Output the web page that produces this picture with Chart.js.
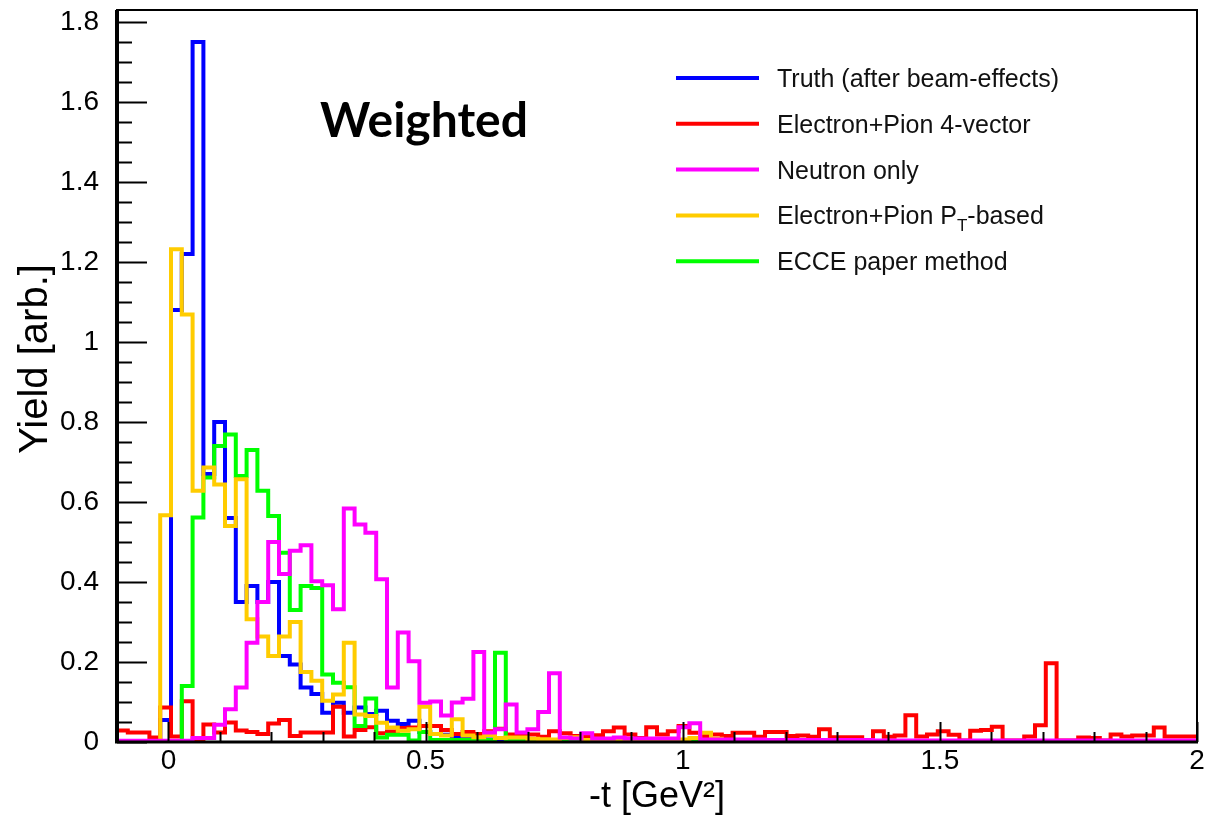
<!DOCTYPE html>
<html>
<head>
<meta charset="utf-8">
<script src="https://cdn.jsdelivr.net/npm/chart.js@4.4.1/dist/chart.umd.min.js"></script>
<style>
  html, body { margin: 0; padding: 0; background: #fff; }
</style>
</head>
<body>
<canvas id="yieldChart" width="1206" height="815"></canvas>
<script>
// -t histogram: 100 bins between -0.1 and 2.0 GeV^2
const binLow = -0.1;
const binWidth = 0.021;
const nBins = 100;

const xTicks = [0, 0.5, 1, 1.5, 2];
const yTicks = [0, 0.2, 0.4, 0.6, 0.8, 1, 1.2, 1.4, 1.6, 1.8];

const seriesNames = ['Truth (after beam-effects)', 'Electron+Pion 4-vector', 'Neutron only', 'Electron+Pion P_T-based', 'ECCE paper method'];
const seriesColors = ['#0000ff', '#ff0000', '#ff00ff', '#ffcc00', '#00ff00'];

const truth = [
    0, 0, 0, 0, 0.055, 1.08, 1.22, 1.75, 0.67, 0.80,
    0.56, 0.35, 0.39, 0.35, 0.40, 0.215, 0.194, 0.136, 0.12, 0.073,
    0.098, 0.073, 0.086, 0.07, 0.078, 0.053, 0.045, 0.053, 0.025, 0.02,
    0.018, 0.012, 0.01, 0.008, 0.006, 0.005, 0.004, 0.003, 0.002, 0.002,
    0.001, 0.001, 0, 0, 0, 0, 0, 0, 0, 0,
    0, 0, 0, 0, 0, 0, 0, 0, 0, 0,
    0, 0, 0, 0, 0, 0, 0, 0, 0, 0,
    0, 0, 0, 0, 0, 0, 0, 0, 0, 0,
    0, 0, 0, 0, 0, 0, 0, 0, 0, 0,
    0, 0, 0, 0, 0, 0, 0, 0, 0, 0
];
const fourVector = [
    0.029, 0.024, 0.024, 0.011, 0.086, 0.014, 0.102, 0.007, 0.044, 0.024,
    0.049, 0.029, 0.025, 0.02, 0.046, 0.055, 0.015, 0.024, 0.024, 0.024,
    0.088, 0.014, 0.03, 0.037, 0.022, 0.026, 0.035, 0.036, 0.04, 0.04,
    0.03, 0.02, 0.025, 0.02, 0.027, 0.033, 0.019, 0.019, 0.019, 0.013,
    0.027, 0.022, 0.015, 0.015, 0.017, 0.027, 0.036, 0.019, 0.01, 0.037,
    0.019, 0.027, 0.04, 0.023, 0.015, 0.019, 0.015, 0.023, 0.023, 0.013,
    0.025, 0.025, 0.015, 0.016, 0.013, 0.032, 0.012, 0.012, 0.012, 0.004,
    0.027, 0.013, 0.016, 0.067, 0.014, 0.019, 0.027, 0.018, 0.004, 0.028,
    0.03, 0.038, 0.004, 0.004, 0.014, 0.042, 0.197, 0.004, 0.004, 0.011,
    0.01, 0.004, 0.019, 0.014, 0.016, 0.016, 0.036, 0.014, 0.014, 0.014
];
const neutronOnly = [
    0.003, 0.003, 0.003, 0.003, 0.003, 0.003, 0.003, 0.01, 0.01, 0.043,
    0.082, 0.136, 0.248, 0.35, 0.50, 0.42, 0.478, 0.492, 0.402, 0.392,
    0.332, 0.584, 0.544, 0.523, 0.407, 0.136, 0.274, 0.202, 0.098, 0.101,
    0.066, 0.099, 0.108, 0.225, 0.024, 0.032, 0.094, 0.024, 0.032, 0.075,
    0.172, 0.011, 0.009, 0.022, 0.009, 0.009, 0.011, 0.009, 0.009, 0.009,
    0.009, 0.009, 0.037, 0.047, 0.006, 0.006, 0.006, 0.006, 0.006, 0.006,
    0.005, 0.005, 0.005, 0.005, 0.005, 0.005, 0.005, 0.005, 0.005, 0.005,
    0.004, 0.004, 0.004, 0.004, 0.004, 0.004, 0.004, 0.004, 0.004, 0.004,
    0.004, 0.004, 0.004, 0.004, 0.004, 0.004, 0.004, 0.004, 0.004, 0.004,
    0.004, 0.004, 0.004, 0.004, 0.004, 0.004, 0.004, 0.004, 0.004, 0.004
];
const ptBased = [
    0, 0, 0, 0, 0.567, 1.232, 1.069, 0.628, 0.686, 0.644,
    0.54, 0.657, 0.307, 0.264, 0.215, 0.264, 0.30, 0.175, 0.153, 0.103,
    0.119, 0.248, 0.069, 0.065, 0.048, 0.036, 0.028, 0.032, 0.088, 0.02,
    0.016, 0.057, 0.016, 0.012, 0.017, 0.01, 0.011, 0.011, 0.008, 0.007,
    0.006, 0.01, 0.012, 0.005, 0.005, 0.005, 0.005, 0.005, 0.004, 0.004,
    0.004, 0.004, 0.006, 0.01, 0.023, 0.008, 0.003, 0.003, 0.003, 0.003,
    0.002, 0.002, 0.002, 0.002, 0.002, 0.002, 0.002, 0.002, 0.002, 0.002,
    0, 0, 0, 0, 0, 0, 0, 0, 0, 0,
    0, 0, 0, 0, 0, 0, 0, 0, 0, 0,
    0, 0, 0, 0, 0, 0, 0, 0, 0, 0
];
const ecceMethod = [
    0, 0, 0, 0, 0, 0, 0.14, 0.561, 0.661, 0.74,
    0.769, 0.665, 0.73, 0.628, 0.565, 0.473, 0.33, 0.39, 0.385, 0.169,
    0.148, 0.137, 0.04, 0.109, 0.011, 0.018, 0.018, 0.004, 0.025, 0.005,
    0.005, 0.005, 0.005, 0.005, 0.005, 0.223, 0.004, 0.004, 0.003, 0.003,
    0.002, 0.002, 0.002, 0.001, 0.001, 0, 0, 0, 0, 0,
    0, 0, 0, 0, 0, 0, 0, 0, 0, 0,
    0, 0, 0, 0, 0, 0, 0, 0, 0, 0,
    0, 0, 0, 0, 0, 0, 0, 0, 0, 0,
    0, 0, 0, 0, 0, 0, 0, 0, 0, 0,
    0, 0, 0, 0, 0, 0, 0, 0, 0, 0
];

const allSeries = [truth, fourVector, neutronOnly, ptBased, ecceMethod];
// drawing order: magenta on top, blue at the back
const drawOrder = [4, 3, 0, 1, 2];

// turn bin contents into step points (left edge of every bin + closing edge)
function histPoints(values) {
    const pts = values.map((v, k) => ({ x: binLow + k * binWidth, y: v }));
    pts.push({ x: binLow + nBins * binWidth, y: values[values.length - 1] });
    return pts;
}

const FONT = 'Liberation Sans';

// ROOT-like frame, inward ticks, titles, legend and label
const rootDecor = {
    id: 'rootDecor',
    afterDraw(chart) {
        const { ctx, chartArea: a, scales: { x, y } } = chart;
        ctx.save();
        ctx.strokeStyle = '#000';
        ctx.lineCap = 'butt';

        // y ticks (major 0.2, minor 0.05)
        ctx.lineWidth = 2;
        const yStep = yTicks[1] - yTicks[0];
        for (let i = 0; i < yTicks.length; i++) {
            for (let m = 0; m < 4; m++) {
                const v = yTicks[i] + m * yStep / 4;
                if (v > y.max) continue;
                const py = Math.round(y.getPixelForValue(v)) + 0.5;
                const len = m === 0 ? 30 : 15;
                ctx.beginPath();
                ctx.moveTo(a.left, py);
                ctx.lineTo(a.left + len, py);
                ctx.stroke();
            }
        }
        // x ticks (major 0.5, minor 0.1)
        const xStep = xTicks[1] - xTicks[0];
        for (let i = -1; i < xTicks.length; i++) {
            for (let m = 0; m < 5; m++) {
                const v = xTicks[0] + i * xStep + m * xStep / 5;
                if (v < x.min - 1e-9 || v > x.max + 1e-9) continue;
                const px = Math.round(x.getPixelForValue(v)) + 0.5;
                const len = m === 0 ? 20 : 10;
                ctx.beginPath();
                ctx.moveTo(px, a.bottom);
                ctx.lineTo(px, a.bottom - len);
                ctx.stroke();
            }
        }

        // frame
        ctx.lineWidth = 2;
        ctx.strokeRect(a.left, a.top, a.right - a.left, a.bottom - a.top);
        ctx.lineWidth = 4;
        ctx.beginPath();
        ctx.moveTo(a.left, a.top);
        ctx.lineTo(a.left, a.bottom + 1);
        ctx.stroke();
        ctx.lineWidth = 3;
        ctx.beginPath();
        ctx.moveTo(a.left - 2, a.bottom);
        ctx.lineTo(a.right + 1, a.bottom);
        ctx.stroke();

        // axis titles
        ctx.fillStyle = '#000';
        ctx.textAlign = 'center';
        ctx.textBaseline = 'middle';
        ctx.font = '36px "' + FONT + '"';
        ctx.fillText('-t [GeV\u00b2]', (a.left + a.right) / 2, 797);
        ctx.save();
        ctx.translate(36, 359);
        ctx.rotate(-Math.PI / 2);
        ctx.font = '40px "' + FONT + '"';
        ctx.fillText('Yield [arb.]', 0, 0);
        ctx.restore();

        // legend
        ctx.textAlign = 'left';
        ctx.textBaseline = 'alphabetic';
        seriesNames.forEach((name, i) => {
            const ly = 78 + i * 45.8;
            ctx.strokeStyle = seriesColors[i];
            ctx.lineWidth = 4;
            ctx.beginPath();
            ctx.moveTo(676, ly);
            ctx.lineTo(759, ly);
            ctx.stroke();
            ctx.fillStyle = '#111';
            ctx.font = '25px "' + FONT + '"';
            const parts = name.split('_T');
            let tx = 777;
            ctx.fillText(parts[0], tx, ly + 9);
            if (parts.length > 1) {
                tx += ctx.measureText(parts[0]).width;
                ctx.font = '17px "' + FONT + '"';
                ctx.fillText('T', tx, ly + 16);
                tx += ctx.measureText('T').width;
                ctx.font = '25px "' + FONT + '"';
                ctx.fillText(parts[1], tx, ly + 9);
            }
        });

        // "Weighted" label
        ctx.fillStyle = '#000';
        ctx.font = 'bold 48px Lato';
        ctx.fillText('Weighted', 320, 137);
        ctx.restore();
    }
};

const ctx = document.getElementById('yieldChart').getContext('2d');
new Chart(ctx, {
    type: 'line',
    data: {
        datasets: allSeries.map((vals, i) => ({
            label: seriesNames[i],
            data: histPoints(vals),
            borderColor: seriesColors[i],
            backgroundColor: seriesColors[i],
            borderWidth: 4,
            stepped: 'before',
            fill: false,
            pointRadius: 0,
            order: drawOrder[i]
        }))
    },
    options: {
        responsive: false,
        animation: false,
        events: [],
        layout: { padding: { top: 10, right: 9, left: 0, bottom: 0 } },
        elements: { line: { tension: 0, borderJoinStyle: 'miter', borderCapStyle: 'butt' } },
        plugins: {
            legend: { display: false },
            tooltip: { enabled: false }
        },
        scales: {
            x: {
                type: 'linear',
                min: binLow,
                max: binLow + nBins * binWidth,
                grid: { display: false },
                border: { display: false },
                afterBuildTicks: (s) => { s.ticks = xTicks.map(v => ({ value: v })); },
                afterFit: (s) => { s.height = 73; s.paddingLeft = 0; s.paddingRight = 0; },
                ticks: {
                    color: '#000',
                    font: { family: FONT, size: 28 },
                    padding: -6,
                    maxRotation: 0,
                    autoSkip: false,
                    callback: (v) => String(v)
                }
            },
            y: {
                min: 0,
                max: 1.83,
                grid: { display: false },
                border: { display: false },
                afterBuildTicks: (s) => { s.ticks = yTicks.map(v => ({ value: v })); },
                afterFit: (s) => { s.width = 117; s.paddingTop = 0; s.paddingBottom = 0; },
                ticks: {
                    color: '#000',
                    font: { family: FONT, size: 28 },
                    padding: 10,
                    autoSkip: false,
                    callback: (v) => String(Math.round(v * 10) / 10)
                }
            }
        }
    },
    plugins: [rootDecor]
});
</script>
</body>
</html>
